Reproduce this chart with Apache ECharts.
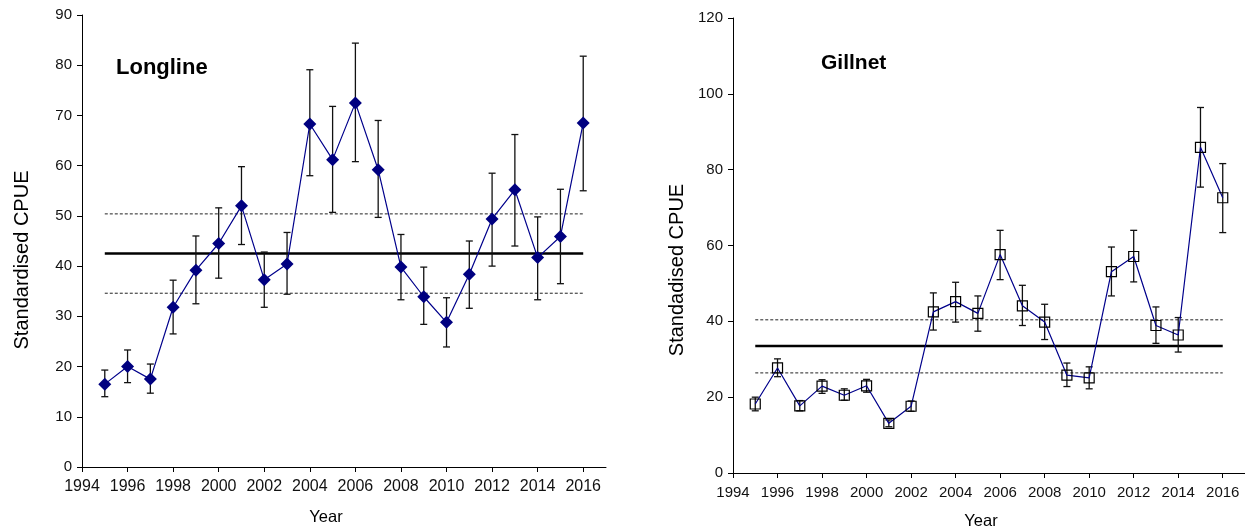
<!DOCTYPE html>
<html>
<head>
<meta charset="utf-8">
<script src="https://cdn.jsdelivr.net/npm/echarts@6/dist/echarts.min.js"></script>
<style>
html,body{margin:0;padding:0;background:#fff;}
#main{width:1245px;height:529px;}
</style>
</head>
<body>
<div id="main"></div>
<script>
// ---- data ----
const years = [1995,1996,1997,1998,1999,2000,2001,2002,2003,2004,2005,2006,2007,2008,2009,2010,2011,2012,2013,2014,2015,2016];
const longlineCPUE = [16.5,20.0,17.5,31.8,39.2,44.5,52.0,37.3,40.4,68.3,61.2,72.5,59.2,39.8,33.9,28.8,38.4,49.4,55.2,41.7,45.9,68.5];
const longlineLow  = [14.0,16.8,14.7,26.5,32.5,37.6,44.3,31.8,34.4,58.0,50.7,60.8,49.7,33.3,28.4,23.9,31.6,40.0,44.0,33.3,36.5,55.0];
const longlineHigh = [19.3,23.3,20.5,37.2,46.0,51.6,59.8,42.8,46.7,79.1,71.8,84.4,69.0,46.3,39.8,33.7,45.0,58.5,66.2,49.8,55.3,81.8];
const longlineMean = 42.5, longlineUpper = 50.4, longlineLower = 34.6;

const gillnetCPUE = [18.2,27.7,17.7,22.9,20.5,23.0,13.1,17.6,42.5,45.2,42.1,57.6,44.1,39.8,25.8,25.1,53.1,57.1,38.9,36.4,85.9,72.6];
const gillnetLow  = [16.4,25.4,16.4,21.0,19.2,21.3,12.2,16.3,37.7,39.8,37.4,51.0,38.9,35.2,22.8,22.2,46.7,50.4,34.2,31.9,75.4,63.4];
const gillnetHigh = [20.0,30.1,19.1,24.6,22.2,24.7,14.0,19.0,47.5,50.3,46.7,64.0,49.5,44.5,29.0,28.0,59.6,64.0,43.8,41.0,96.4,81.6];
const gillnetMean = 33.5, gillnetUpper = 40.4, gillnetLower = 26.4;

const xTicks = [1994,1996,1998,2000,2002,2004,2006,2008,2010,2012,2014,2016];

// ---- build ----
const FONT = "'Liberation Sans', Arial, sans-serif";
const zip = (a, b) => a.map((v, i) => [v, b[i]]);
const errData = (lo, hi) => years.map((y, i) => [y, lo[i], hi[i]]);
const refLine = (v) => [[years[0], v], [years[years.length - 1], v]];

function errorBars(idx, data) {
  return {
    type: 'custom', xAxisIndex: idx, yAxisIndex: idx, z: 1,
    data: data,
    encode: { x: 0, y: [1, 2] },
    renderItem: function (params, api) {
      const x = api.value(0);
      const lo = api.coord([x, api.value(1)]);
      const hi = api.coord([x, api.value(2)]);
      const cap = 3.5;
      const st = { stroke: '#111', lineWidth: 1.3 };
      return {
        type: 'group',
        children: [
          { type: 'line', shape: { x1: lo[0], y1: lo[1], x2: hi[0], y2: hi[1] }, style: st },
          { type: 'line', shape: { x1: lo[0] - cap, y1: lo[1], x2: lo[0] + cap, y2: lo[1] }, style: st },
          { type: 'line', shape: { x1: hi[0] - cap, y1: hi[1], x2: hi[0] + cap, y2: hi[1] }, style: st }
        ]
      };
    }
  };
}
function ref(idx, v, dashed) {
  return {
    type: 'line', xAxisIndex: idx, yAxisIndex: idx, z: 0,
    data: refLine(v), symbol: 'none', silent: true,
    lineStyle: dashed ? { color: '#222', width: 1, type: [3, 2] } : { color: '#000', width: 2.4 }
  };
}
function xAxis(idx, fs) {
  return {
    type: 'value', gridIndex: idx, min: 1994, max: 2017, interval: 2,
    axisLine: { show: true, lineStyle: { color: '#000', width: 1 } },
    axisTick: { show: true, length: 5, customValues: xTicks, lineStyle: { color: '#000' } },
    axisLabel: { customValues: xTicks, margin: 12, fontSize: fs, color: '#111', fontFamily: FONT,
                 formatter: function (v) { return String(v); } },
    splitLine: { show: false }
  };
}
function yAxis(idx, max, interval, fs) {
  return {
    type: 'value', gridIndex: idx, min: 0, max: max, interval: interval,
    axisLine: { show: true, lineStyle: { color: '#000', width: 1 } },
    axisTick: { show: true, length: 5, lineStyle: { color: '#000' } },
    axisLabel: { margin: 10, fontSize: fs, color: '#111', fontFamily: FONT },
    splitLine: { show: false }
  };
}

const chart = echarts.init(document.getElementById('main'), null, { renderer: 'canvas' });
chart.setOption({
  backgroundColor: '#fff',
  animation: false,
  grid: [
    { left: 82, top: 15, width: 524, height: 452 },
    { left: 733, top: 18, width: 512, height: 455 }
  ],
  xAxis: [xAxis(0, 16), xAxis(1, 15)],
  yAxis: [yAxis(0, 90, 10, 15), yAxis(1, 120, 20, 15)],
  graphic: [
    { type: 'text', left: 116, top: 57, style: { text: 'Longline', font: "bold 22px " + FONT, fill: '#000' } },
    { type: 'text', left: 821, top: 53, style: { text: 'Gillnet', font: "bold 21px " + FONT, fill: '#000' } },
    { type: 'text', x: 22, y: 260, rotation: Math.PI / 2, style: { text: 'Standardised CPUE', font: "20px " + FONT, fill: '#000', align: 'center', verticalAlign: 'middle' } },
    { type: 'text', x: 677, y: 270, rotation: Math.PI / 2, style: { text: 'Standadised CPUE', font: "20px " + FONT, fill: '#000', align: 'center', verticalAlign: 'middle' } },
    { type: 'text', x: 326, y: 517, style: { text: 'Year', font: "16.5px " + FONT, fill: '#000', align: 'center', verticalAlign: 'middle' } },
    { type: 'text', x: 981, y: 521, style: { text: 'Year', font: "16.5px " + FONT, fill: '#000', align: 'center', verticalAlign: 'middle' } }
  ],
  series: [
    ref(0, longlineMean, false), ref(0, longlineUpper, true), ref(0, longlineLower, true),
    errorBars(0, errData(longlineLow, longlineHigh)),
    {
      type: 'line', xAxisIndex: 0, yAxisIndex: 0, z: 3,
      data: zip(years, longlineCPUE),
      symbol: 'diamond', symbolSize: 13, showSymbol: true,
      lineStyle: { color: '#00008B', width: 1.2 },
      itemStyle: { color: '#000080' }
    },
    ref(1, gillnetMean, false), ref(1, gillnetUpper, true), ref(1, gillnetLower, true),
    errorBars(1, errData(gillnetLow, gillnetHigh)),
    {
      type: 'line', xAxisIndex: 1, yAxisIndex: 1, z: 3,
      data: zip(years, gillnetCPUE),
      symbol: 'rect', symbolSize: 10, showSymbol: true,
      lineStyle: { color: '#00008B', width: 1.2 },
      itemStyle: { color: 'rgba(255,255,255,0)', borderColor: '#000', borderWidth: 1.2 }
    }
  ]
});
</script>
</body>
</html>
